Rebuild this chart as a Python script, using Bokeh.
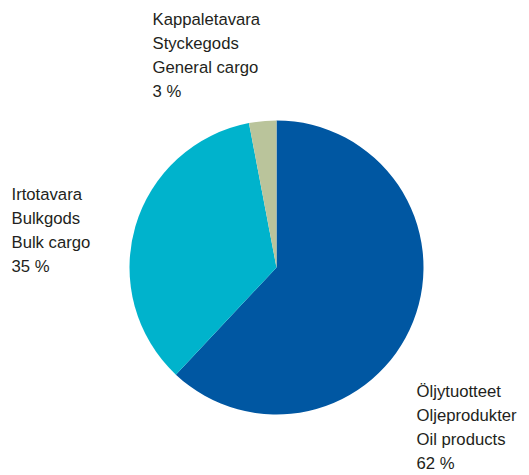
import math
from bokeh.plotting import figure
from bokeh.models import Range1d, ColumnDataSource
from bokeh.core.properties import value
from bokeh.embed import file_html
from bokeh.resources import INLINE

# Data
names_fi = ["Öljytuotteet", "Irtotavara", "Kappaletavara"]
names_sv = ["Oljeprodukter", "Bulkgods", "Styckegods"]
names_en = ["Oil products", "Bulk cargo", "General cargo"]
shares = [62, 35, 3]
colors = ["#0057A2", "#00B3CC", "#BAC49B"]

W, H = 529, 475
p = figure(width=W, height=H, output_backend="svg", toolbar_location=None,
           x_range=Range1d(0, W), y_range=Range1d(0, H), min_border=0)
p.axis.visible = False
p.grid.visible = False
p.outline_line_color = None
p.background_fill_color = "white"
p.border_fill_color = "white"

# pie geometry (image coords -> data with y up)
cx, cy = 276, H - 267
r = 147

total = sum(shares)
starts, ends = [], []
acc = 0.0
for s in shares:
    a0 = math.pi / 2 - 2 * math.pi * acc / total
    acc += s
    a1 = math.pi / 2 - 2 * math.pi * acc / total
    starts.append(a0)
    ends.append(a1)

src = ColumnDataSource(dict(start=starts, end=ends, color=colors))
p.wedge(x=cx, y=cy, radius=r, start_angle="start", end_angle="end",
        direction="clock", fill_color="color", line_color=None, source=src)

# label anchors (image coords of first line centre)
anchors = [(416, 391), (11, 194), (152, 19)]
line_gap = 24.0
for i in range(len(shares)):
    lines = [names_fi[i], names_sv[i], names_en[i], f"{shares[i]} %"]
    ax, ay = anchors[i]
    xs = [ax] * 4
    ys = [H - (ay + k * line_gap) for k in range(4)]
    p.text(x=xs, y=ys, text=lines, text_font=value("Liberation Sans"),
           text_font_size="16.7px", text_color="#231F20",
           text_baseline="middle", text_align="left")

open("out.html", "w").write(file_html(p, INLINE))
